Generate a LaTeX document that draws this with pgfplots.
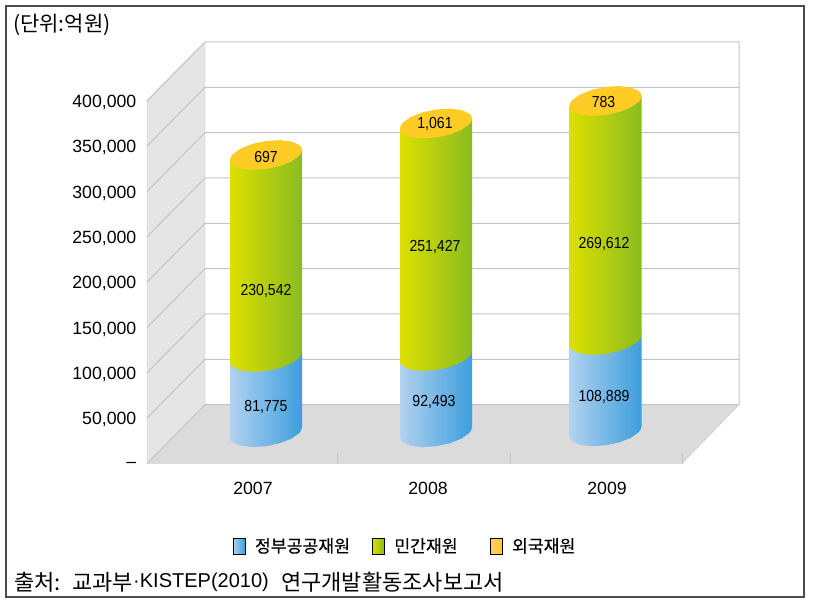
\documentclass[border=0pt]{standalone}
\usepackage{pgfplots}
\usepackage{pgfplotstable}
\usepackage{fontspec}
\pgfplotsset{compat=1.18}
\setmainfont{Liberation Sans}
\newfontfamily\kr{Noto Sans CJK KR}
\newfontfamily\krb[FakeBold=0.4]{Noto Sans CJK KR}
\newfontfamily\narrow[FakeStretch=0.88]{Liberation Sans}
\definecolor{bluel}{HTML}{B2D2F0}
\definecolor{bluer}{HTML}{3C9EDC}
\definecolor{greenl}{HTML}{DDE000}
\definecolor{greenr}{HTML}{8ABC20}
\definecolor{yel}{HTML}{FFCB25}
\definecolor{gridc}{HTML}{C4C4C4}
% shape of the cylinder wall: lower rim at lvl 0, then up to the next level
\pgfplotstableread{
dx dy lvl
-36 -5515 0
-35.3 -8420 0
-33.3 -11008 0
-25.5 -14824 0
-13.8 -16391 0
0 -15442 0
13.8 -12155 0
25.5 -7015 0
33.3 -816 0
35.3 2395 0
36 5515 0
36 5515 1
-36 -5515 1
}\wallshape
% top ellipse
\pgfplotstableread{
dx dy
-36 -5515
-35.3 -8420
-33.3 -11008
-25.5 -14824
-13.8 -16391
0 -15442
13.8 -12155
25.5 -7015
33.3 -816
35.3 2395
36 5515
35.3 8420
33.3 11008
25.5 14824
13.8 16391
0 15442
-13.8 12155
-25.5 7015
-33.3 816
-35.3 -2395
}\topshape
\begin{document}
\begin{tikzpicture}[x=1pt,y=1pt]
\path[use as bounding box] (0,0) rectangle (813,606);
\draw[color=black!70,line width=1.6pt] (6,9) rectangle (804,600);
\node[anchor=west,inner sep=0pt,font=\fontsize{21}{24}\selectfont\kr] at (13,581) {(단위:억원)};
\node[anchor=west,inner sep=0pt,font=\fontsize{22}{24}\selectfont\kr] at (14,24) {출처:};
\node[anchor=west,inner sep=0pt,font=\fontsize{22}{24}\selectfont\kr] at (72,24) {교과부};
\node[anchor=west,inner sep=0pt,font=\fontsize{20}{24}\selectfont] at (133,24) {·KISTEP(2010)};
\node[anchor=west,inner sep=0pt,font=\fontsize{22}{24}\selectfont\kr] at (281,24) {연구개발활동조사보고서};
\begin{axis}[
  at={(147pt,142.5pt)},anchor=south west,
  scale only axis,width=592pt,height=421.5pt,
  xmin=147,xmax=739,ymin=0,ymax=464900,
  clip=false,no markers,
  axis line style={draw=none},tick style={draw=none},
  xtick={253,428,607},xticklabels={2007,2008,2009},
  ytick={0,50000,100000,150000,200000,250000,300000,350000,400000},
  yticklabels={{--},{50,000},{100,000},{150,000},{200,000},{250,000},{300,000},{350,000},{400,000}},
  scaled y ticks=false,
  tick label style={font=\fontsize{17.7}{20}\selectfont},
  yticklabel style={inner sep=0pt,xshift=-10.5pt,yshift=-1.5pt},
  xticklabel style={inner sep=0pt,yshift=-18.5pt},
  legend style={at={(axis cs:404,-90997)},anchor=center,draw=none,fill=none,
    legend columns=3,font=\fontsize{17.2}{18}\selectfont\krb,
    nodes={inner sep=0pt},
    /tikz/column 1/.style={column sep=10pt},
    /tikz/column 2/.style={column sep=22pt},
    /tikz/column 3/.style={column sep=10pt},
    /tikz/column 4/.style={column sep=32pt},
    /tikz/column 5/.style={column sep=10pt}},
]
% walls and floor
\addplot[forget plot,fill=black!10,draw=gridc] coordinates {(147,0)(147,400000)(205,464900)(205,64900)};
\addplot[forget plot,fill=black!14,draw=gridc] coordinates {(147,0)(682,0)(739,64900)(205,64900)};
\addplot[forget plot,draw=gridc,line width=1pt] coordinates {(147,0)(205,64900)(739,64900)};
\addplot[forget plot,draw=gridc,line width=1pt] coordinates {(147,50000)(205,114900)(739,114900)};
\addplot[forget plot,draw=gridc,line width=1pt] coordinates {(147,100000)(205,164900)(739,164900)};
\addplot[forget plot,draw=gridc,line width=1pt] coordinates {(147,150000)(205,214900)(739,214900)};
\addplot[forget plot,draw=gridc,line width=1pt] coordinates {(147,200000)(205,264900)(739,264900)};
\addplot[forget plot,draw=gridc,line width=1pt] coordinates {(147,250000)(205,314900)(739,314900)};
\addplot[forget plot,draw=gridc,line width=1pt] coordinates {(147,300000)(205,364900)(739,364900)};
\addplot[forget plot,draw=gridc,line width=1pt] coordinates {(147,350000)(205,414900)(739,414900)};
\addplot[forget plot,draw=gridc,line width=1pt] coordinates {(147,400000)(205,464900)(739,464900)(739,64900)};
\addplot[forget plot,draw=gridc,line width=1pt] coordinates {(337,0)(337,12000)};
\addplot[forget plot,draw=gridc,line width=1pt] coordinates {(510,0)(510,12000)};
\addplot[forget plot,draw=gridc,line width=1pt] coordinates {(682,0)(682,12000)};
% 2007
\addplot[forget plot,draw=none,left color=bluel,right color=bluer] table[x expr=\thisrow{dx}+266,y expr=\thisrow{dy}+34500+\thisrow{lvl}*82970] {\wallshape};
\addplot[forget plot,draw=none,left color=greenl,right color=greenr] table[x expr=\thisrow{dx}+266,y expr=\thisrow{dy}+117470+\thisrow{lvl}*222806] {\wallshape};
\addplot[forget plot,draw=none,fill=yel] table[x expr=\thisrow{dx}+266,y expr=\thisrow{dy}+340276] {\topshape};
% 2008
\addplot[forget plot,draw=none,left color=bluel,right color=bluer] table[x expr=\thisrow{dx}+436,y expr=\thisrow{dy}+34500+\thisrow{lvl}*84073] {\wallshape};
\addplot[forget plot,draw=none,left color=greenl,right color=greenr] table[x expr=\thisrow{dx}+436,y expr=\thisrow{dy}+118573+\thisrow{lvl}*256449] {\wallshape};
\addplot[forget plot,draw=none,fill=yel] table[x expr=\thisrow{dx}+436,y expr=\thisrow{dy}+375022] {\topshape};
% 2009
\addplot[forget plot,draw=none,left color=bluel,right color=bluer] table[x expr=\thisrow{dx}+605.5,y expr=\thisrow{dy}+35500+\thisrow{lvl}*100720] {\wallshape};
\addplot[forget plot,draw=none,left color=greenl,right color=greenr] table[x expr=\thisrow{dx}+605.5,y expr=\thisrow{dy}+136220+\thisrow{lvl}*263618] {\wallshape};
\addplot[forget plot,draw=none,fill=yel] table[x expr=\thisrow{dx}+605.5,y expr=\thisrow{dy}+399838] {\topshape};
% value labels
\begin{scope}[every node/.style={font=\fontsize{16}{18}\selectfont\narrow,inner sep=0pt}]
\node at (axis cs:266,62650) {81,775};
\node at (axis cs:434,68400) {92,493};
\node at (axis cs:604,73350) {108,889};
\node at (axis cs:266,190600) {230,542};
\node at (axis cs:435,239100) {251,427};
\node at (axis cs:604,242100) {269,612};
\node at (axis cs:266,338400) {697};
\node at (axis cs:435,374500) {1,061};
\node at (axis cs:603.5,399060) {783};
\end{scope}
% legend
\addlegendimage{legend image code/.code={\fill[left color=bluel,right color=bluer] (0pt,-8pt) rectangle (12pt,8pt);}}
\addlegendentry{정부공공재원}
\addlegendimage{legend image code/.code={\fill[left color=greenl,right color=greenr] (0pt,-8pt) rectangle (12pt,8pt);}}
\addlegendentry{민간재원}
\addlegendimage{legend image code/.code={\fill[left color=yel!60!orange!60,right color=yel] (0pt,-8pt) rectangle (12pt,8pt);}}
\addlegendentry{외국재원}
\end{axis}
\end{tikzpicture}
\end{document}
